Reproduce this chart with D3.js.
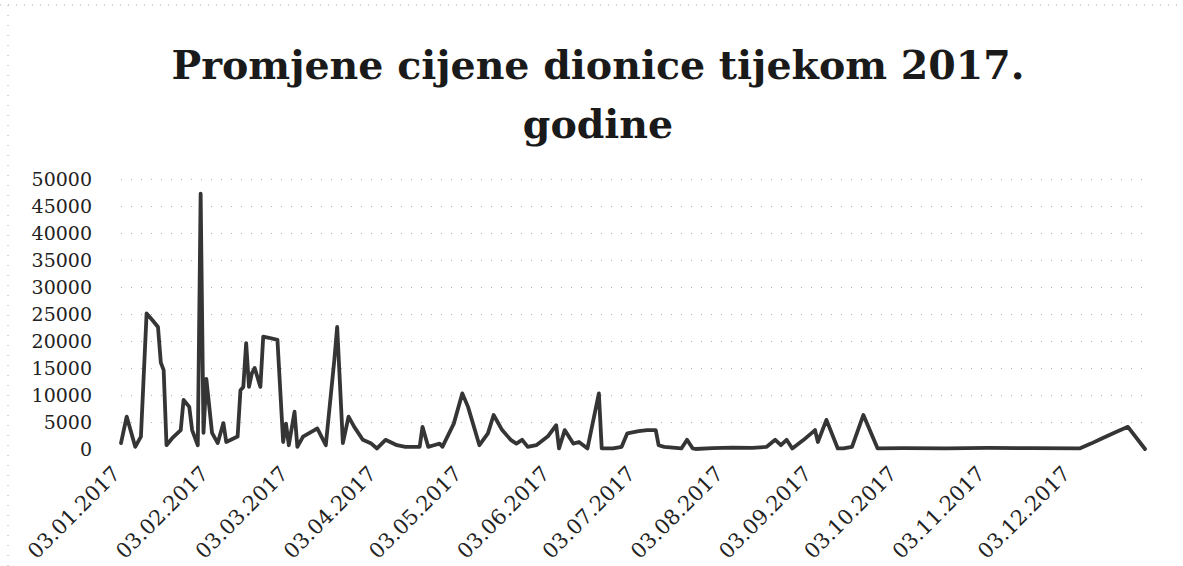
<!DOCTYPE html>
<html>
<head>
<meta charset="utf-8">
<script src="https://cdn.jsdelivr.net/npm/d3@7"></script>
<style>
  html, body { margin: 0; padding: 0; background: #fff; }
  svg { display: block; }
</style>
</head>
<body>
<svg id="chart" width="1183" height="566"></svg>
<script>
// ---- data ----
const titleLines = ["Promjene cijene dionice tijekom 2017.", "godine"];

const dates = [
  "03.01.2017","05.01.2017","08.01.2017","10.01.2017","12.01.2017","14.01.2017","16.01.2017","17.01.2017",
  "18.01.2017","19.01.2017","21.01.2017","24.01.2017","25.01.2017","27.01.2017","28.01.2017","30.01.2017",
  "31.01.2017","01.02.2017","02.02.2017","04.02.2017","06.02.2017","08.02.2017","09.02.2017","13.02.2017",
  "14.02.2017","15.02.2017","16.02.2017","17.02.2017","18.02.2017","19.02.2017","21.02.2017","22.02.2017",
  "24.02.2017","27.02.2017","01.03.2017","02.03.2017","03.03.2017","05.03.2017","06.03.2017","08.03.2017",
  "12.03.2017","13.03.2017","16.03.2017","19.03.2017","20.03.2017","22.03.2017","24.03.2017","26.03.2017",
  "29.03.2017","01.04.2017","03.04.2017","06.04.2017","10.04.2017","13.04.2017","18.04.2017","19.04.2017",
  "21.04.2017","23.04.2017","25.04.2017","26.04.2017","30.04.2017","03.05.2017","05.05.2017","09.05.2017",
  "12.05.2017","14.05.2017","17.05.2017","20.05.2017","22.05.2017","24.05.2017","26.05.2017","29.05.2017",
  "02.06.2017","05.06.2017","06.06.2017","08.06.2017","11.06.2017","13.06.2017","16.06.2017","20.06.2017",
  "21.06.2017","25.06.2017","28.06.2017","30.06.2017","04.07.2017","07.07.2017","10.07.2017","11.07.2017",
  "13.07.2017","19.07.2017","21.07.2017","23.07.2017","24.07.2017","30.07.2017","06.08.2017","13.08.2017",
  "18.08.2017","21.08.2017","23.08.2017","25.08.2017","27.08.2017","31.08.2017","04.09.2017","05.09.2017",
  "08.09.2017","12.09.2017","14.09.2017","17.09.2017","21.09.2017","26.09.2017","05.10.2017","20.10.2017",
  "04.11.2017","19.11.2017","06.12.2017","10.12.2017","14.12.2017","19.12.2017","23.12.2017","29.12.2017"
];

const prices = [
  1100,6000,400,2300,25100,23900,22600,16000,
  14600,700,2000,3500,9100,7800,3500,700,
  47300,3000,13000,3000,1100,4800,1300,2300,
  10900,11500,19600,11500,14000,15000,11500,20800,
  20600,20200,1300,4700,700,6900,400,2300,
  3500,3800,700,16500,22600,1100,6000,4100,
  1700,1000,100,1700,700,400,400,4100,
  400,700,1000,400,4700,10300,7800,700,
  2900,6300,3500,1700,1000,1700,400,700,
  2300,4400,100,3500,1000,1300,100,10300,
  100,100,400,2900,3300,3500,3500,700,
  400,100,1700,100,0,150,250,200,
  400,1700,700,1700,100,1700,3500,1300,
  5400,100,100,400,6300,100,150,100,
  200,150,100,1000,2000,3200,4100,0
];

const xTickLabels = ["03.01.2017","03.02.2017","03.03.2017","03.04.2017","03.05.2017","03.06.2017",
                     "03.07.2017","03.08.2017","03.09.2017","03.10.2017","03.11.2017","03.12.2017"];
const yTickValues = [0,5000,10000,15000,20000,25000,30000,35000,40000,45000,50000];

// ---- drawing ----
const parse = d3.timeParse("%d.%m.%Y");
const data = dates.map((d, i) => ({ date: parse(d), value: prices[i] }));

const svg = d3.select("#chart");
const W = 1183, H = 566;
const plot = { left: 121, right: 1145, top: 179, bottom: 449 };

const x = d3.scaleTime()
  .domain([parse(dates[0]), parse(dates[dates.length - 1])])
  .range([plot.left, plot.right]);
const y = d3.scaleLinear()
  .domain([0, 50000])
  .range([plot.bottom, plot.top]);

// faint dotted frame (scan look)
svg.append("line").attr("x1", 0).attr("x2", W).attr("y1", 5).attr("y2", 5)
  .attr("stroke", "#aaa").attr("stroke-dasharray", "1,7").attr("stroke-width", 1);
svg.append("line").attr("x1", 8).attr("x2", 8).attr("y1", 5).attr("y2", H)
  .attr("stroke", "#aaa").attr("stroke-dasharray", "1,9").attr("stroke-width", 1);

// title
const title = svg.append("g").attr("class", "title");
title.selectAll("text").data(titleLines).join("text")
  .attr("x", 598)
  .attr("y", (d, i) => 79 + i * 59)
  .attr("text-anchor", "middle")
  .attr("font-family", "'DejaVu Serif', 'Liberation Serif', serif")
  .attr("font-weight", "bold")
  .attr("font-size", 39.5)
  .attr("fill", "#1a1a1a")
  .text(d => d);

// y gridlines (faint dotted)
const yAxis = d3.axisLeft(y).tickValues(yTickValues).tickSize(-(plot.right - plot.left)).tickPadding(29)
  .tickFormat(d3.format("d"));
const gy = svg.append("g").attr("transform", `translate(${plot.left},0)`).call(yAxis);
gy.select(".domain").remove();
gy.selectAll(".tick line")
  .attr("stroke", "#9a9a9a")
  .attr("stroke-dasharray", "1,9")
  .attr("stroke-width", 1)
  .attr("opacity", d => d === 0 ? 0 : 0.8);
gy.selectAll(".tick text")
  .attr("font-family", "'DejaVu Serif', 'Liberation Serif', serif")
  .attr("font-size", 19)
  .attr("fill", "#222");

// x axis labels
const xAxis = d3.axisBottom(x).tickValues(xTickLabels.map(parse)).tickSize(0)
  .tickFormat(d3.timeFormat("%d.%m.%Y"));
const gx = svg.append("g").attr("transform", `translate(0,${plot.bottom})`).call(xAxis);
gx.select(".domain").remove();
gx.selectAll(".tick text")
  .attr("font-family", "'DejaVu Serif', 'Liberation Serif', serif")
  .attr("font-size", 21)
  .attr("fill", "#222")
  .attr("text-anchor", "end")
  .attr("y", 0)
  .attr("dy", 0)
  .attr("transform", "translate(0,26) rotate(-45)");

// line
const line = d3.line().x(d => x(d.date)).y(d => y(d.value)).curve(d3.curveLinear);
svg.append("path").datum(data)
  .attr("d", line)
  .attr("fill", "none")
  .attr("stroke", "#353535")
  .attr("stroke-width", 3.8)
  .attr("stroke-linejoin", "round")
  .attr("stroke-linecap", "round");
</script>
</body>
</html>
